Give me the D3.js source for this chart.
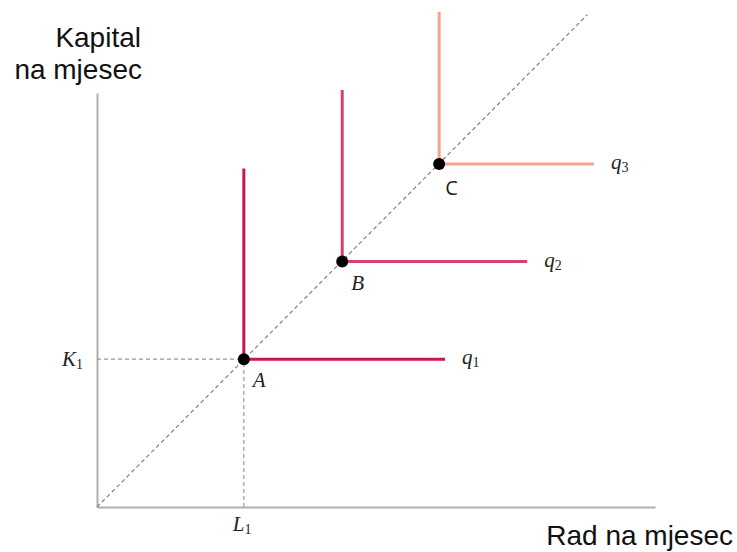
<!DOCTYPE html>
<html>
<head>
<meta charset="utf-8">
<script src="https://cdn.jsdelivr.net/npm/d3@7"></script>
<style>
  body { margin: 0; background: #fff; }
  .axis path { stroke: #b0b0b0; stroke-width: 2; }
  .axis-title { font-family: "Liberation Sans", Arial, sans-serif; font-size: 28px; fill: #111; }
  .math { font-family: "Liberation Serif", "DejaVu Serif", serif; font-style: italic; font-size: 21px; fill: #222; }
  .point-label { font-family: "Open Sans", "Noto Sans", sans-serif; font-size: 20px; fill: #222; }
</style>
</head>
<body>
<div id="chart"></div>
<script>
// isoquant corners (labour, capital)
const points = ["A", "B", "C"];
const labour = [10, 16.7, 23.3];
const capital = [10, 16.6, 23.2];
// where each arm of the L-shaped isoquant ends
const armTop = [22.9, 28.2, 33.5];
const armRight = [23.7, 29.3, 33.85];
const quantLabels = ["q", "q", "q"];
const quantSubs = ["1", "2", "3"];
const colors = ["#c8174a", "#d8406e", "#f4a58b"];
// expansion path along the diagonal
const rayL = [0, 33.4];
const rayK = [0, 33.3];

const width = 737, height = 552;

const svg = d3.select("#chart").append("svg")
    .attr("width", width)
    .attr("height", height);

const x = d3.scaleLinear().domain([0, 38]).range([97, 655]);
const y = d3.scaleLinear().domain([0, 28]).range([507, 93]);

// axes without ticks
svg.append("g")
    .attr("class", "axis")
    .attr("transform", `translate(0,${y(0)})`)
    .call(d3.axisBottom(x).tickValues([]).tickSizeOuter(0));

svg.append("g")
    .attr("class", "axis")
    .attr("transform", `translate(${x(0)},0)`)
    .call(d3.axisLeft(y).tickValues([]).tickSizeOuter(0));

// dashed diagonal
svg.append("line")
    .attr("x1", x(rayL[0])).attr("y1", y(rayK[0]))
    .attr("x2", x(rayL[1])).attr("y2", y(rayK[1]))
    .attr("stroke", "#808080")
    .attr("stroke-width", 1.2)
    .attr("stroke-dasharray", "4,3");

// dashed guides to K1 and L1
svg.append("line")
    .attr("x1", x(0)).attr("y1", y(capital[0]))
    .attr("x2", x(labour[0])).attr("y2", y(capital[0]))
    .attr("stroke", "#999").attr("stroke-width", 1.2).attr("stroke-dasharray", "4,3");
svg.append("line")
    .attr("x1", x(labour[0])).attr("y1", y(0))
    .attr("x2", x(labour[0])).attr("y2", y(capital[0]))
    .attr("stroke", "#999").attr("stroke-width", 1.2).attr("stroke-dasharray", "4,3");

const line = d3.line().x(d => x(d[0])).y(d => y(d[1]));

points.forEach(function(p, i) {
    svg.append("path")
        .attr("d", line([[labour[i], armTop[i]], [labour[i], capital[i]], [armRight[i], capital[i]]]))
        .attr("fill", "none")
        .attr("stroke", colors[i])
        .attr("stroke-width", 3);

    let q = svg.append("text")
        .attr("class", "math")
        .attr("x", x(armRight[i]) + 17)
        .attr("y", y(capital[i]) + 5)
        .text(quantLabels[i]);
    q.append("tspan")
        .attr("font-size", 14)
        .attr("font-style", "normal")
        .attr("dy", 3)
        .text(quantSubs[i]);
});

points.forEach(function(p, i) {
    svg.append("circle")
        .attr("cx", x(labour[i]))
        .attr("cy", y(capital[i]))
        .attr("r", 6)
        .attr("fill", "#000");

    svg.append("text")
        .attr("class", i == 2 ? "point-label" : "math")
        .attr("x", x(labour[i]) + (i == 2 ? 6 : 9))
        .attr("y", y(capital[i]) + (i == 2 ? 31 : 28))
        .text(p);
});

// K1 and L1 labels
let k1 = svg.append("text")
    .attr("class", "math")
    .attr("x", 62)
    .attr("y", y(capital[0]) + 7)
    .text("K");
k1.append("tspan").attr("font-size", 14).attr("font-style", "normal").attr("dy", 3).text("1");

let l1 = svg.append("text")
    .attr("class", "math")
    .attr("x", x(labour[0]) - 11)
    .attr("y", 531)
    .text("L");
l1.append("tspan").attr("font-size", 14).attr("font-style", "normal").attr("dy", 3).text("1");

// axis titles
svg.append("text")
    .attr("class", "axis-title")
    .attr("x", 141).attr("y", 47)
    .attr("text-anchor", "end")
    .text("Kapital");
svg.append("text")
    .attr("class", "axis-title")
    .attr("x", 142).attr("y", 79)
    .attr("text-anchor", "end")
    .text("na mjesec");
svg.append("text")
    .attr("class", "axis-title")
    .attr("x", 733).attr("y", 545)
    .attr("text-anchor", "end")
    .text("Rad na mjesec");
</script>
</body>
</html>
